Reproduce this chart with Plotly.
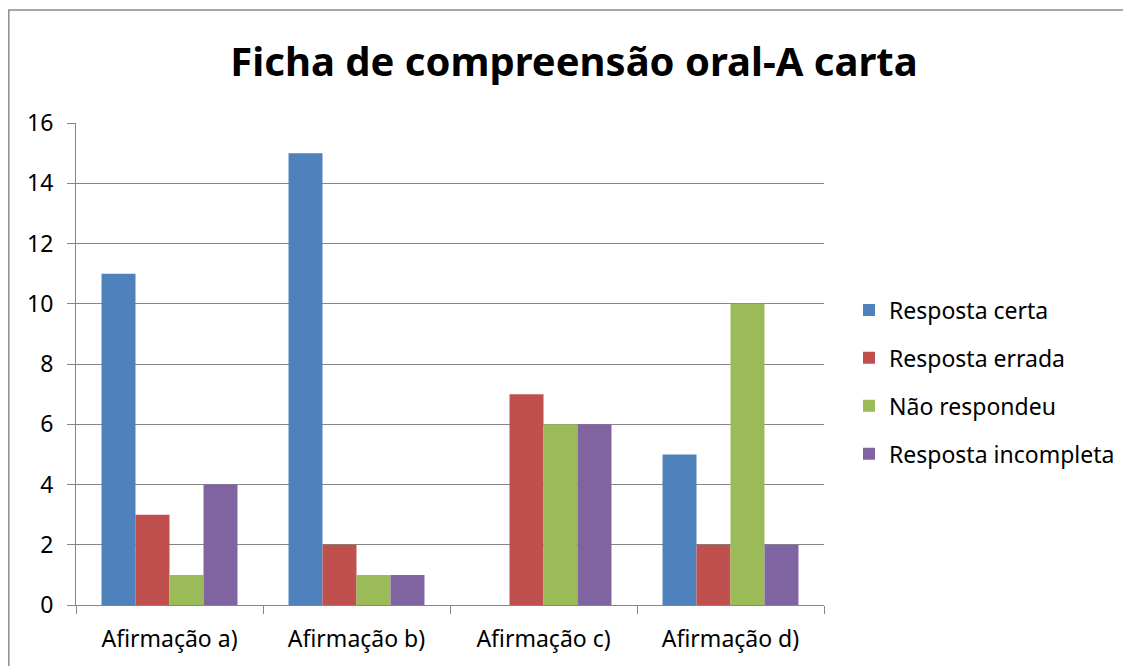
import plotly.graph_objects as go

categorias = ["Afirmação a)", "Afirmação b)", "Afirmação c)", "Afirmação d)"]
series = ["Resposta certa", "Resposta errada", "Não respondeu", "Resposta incompleta"]
resposta_certa = [11, 15, 0, 5]
resposta_errada = [3, 2, 7, 2]
nao_respondeu = [1, 1, 6, 10]
resposta_incompleta = [4, 1, 6, 2]
valores = [resposta_certa, resposta_errada, nao_respondeu, resposta_incompleta]
cores = ["#4F81BD", "#C0504D", "#9BBB59", "#8064A2"]
yticks = [0, 2, 4, 6, 8, 10, 12, 14, 16]

FONT = "Noto Sans"
GRID = "#868686"

fig = go.Figure()
for nome, vals, cor in zip(series, valores, cores):
    fig.add_trace(go.Bar(x=categorias, y=vals, name=nome,
                         marker=dict(color=cor, line=dict(width=0)),
                         legendgroup=nome))

# the page body has an 8px margin, so the figure is 8px smaller
W, H = 1123, 658
L, R, T, B = 68, 306, 115, 61
pw, ph = W - L - R, H - T - B

fig.update_layout(
    width=W, height=H,
    margin=dict(l=L, r=R, t=T, b=B),
    paper_bgcolor="white", plot_bgcolor="white",
    barmode="group", bargap=0.273, bargroupgap=0,
    font=dict(family=FONT, size=23, color="black"),
    title=dict(text="<b>Ficha de compreensão oral-A carta</b>",
               font=dict(family=FONT, size=40, color="black"),
               x=566 / W, xanchor="center",
               y=1 - 54 / H, yanchor="middle"),
    legend=dict(x=(841 - L) / pw, xanchor="left",
                y=(H - B - 374) / ph, yanchor="middle",
                font=dict(family=FONT, size=23),
                tracegroupgap=15, traceorder="grouped",
                itemwidth=30, bgcolor="rgba(0,0,0,0)"),
    shapes=[dict(type="rect", xref="paper", yref="paper",
                 x0=(0.75 - L) / pw, x1=(W + 20 - L) / pw,
                 y0=-(40 + B) / ph, y1=(H - B - 2) / ph,
                 line=dict(color="#8C8C8C", width=1.5), layer="below")],
)

fig.update_yaxes(range=[0, 16], tickvals=yticks, showgrid=True,
                 gridcolor=GRID, gridwidth=1, showline=True, linecolor=GRID,
                 linewidth=1, ticks="outside", ticklen=8, tickcolor=GRID,
                 zeroline=False, tickfont=dict(size=23), ticklabelstandoff=9)
fig.update_xaxes(showline=True, linecolor=GRID, linewidth=1, ticks="outside",
                 tickson="boundaries", ticklen=8, tickcolor=GRID,
                 tickfont=dict(size=23), ticklabelstandoff=13)

fig.write_html("out.html")
